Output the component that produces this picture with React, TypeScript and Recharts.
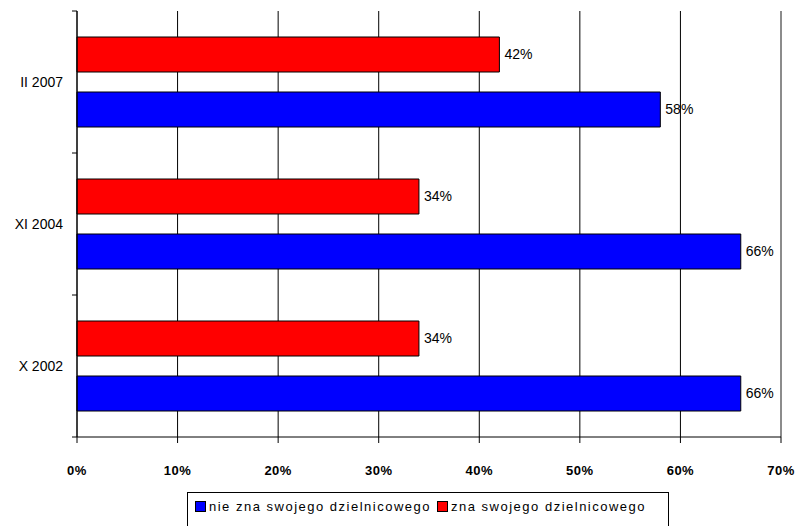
import React from "react";
import { BarChart, Bar, XAxis, YAxis, CartesianGrid, LabelList, ReferenceLine } from "recharts";

const categories = ["II 2007", "XI 2004", "X 2002"];
const znaValues = [42, 34, 34];
const nieZnaValues = [58, 66, 66];
const xTicks = [0, 10, 20, 30, 40, 50, 60, 70];
const seriesNames = ["nie zna swojego dzielnicowego", "zna swojego dzielnicowego"];
const seriesColors = ["#0000FF", "#FF0000"];

const data = categories.map((c, i) => ({ cat: c, zna: znaValues[i], nie: nieZnaValues[i] }));

const FONT = "'Liberation Sans Narrow', 'Liberation Sans', Arial, sans-serif";

const YTick = (props: any) => {
  const { x, y, payload, index } = props;
  const half = payload && payload.offset ? payload.offset : 71;
  return (
    <g>
      <text x={x - 6} y={y} dy="0.35em" textAnchor="end" fontSize={14} fontFamily={FONT} fill="#000">
        {payload.value}
      </text>
      <line x1={x + 3} x2={x + 8} y1={y - half} y2={y - half} stroke="#000" />
      {index === categories.length - 1 && <line x1={x + 3} x2={x + 8} y1={y + half} y2={y + half} stroke="#000" />}
    </g>
  );
};

const LegendBox = () => (
  <div
    style={{
      position: "absolute",
      left: 187,
      top: 492,
      border: "1px solid #000",
      background: "#fff",
      padding: "6px 8px 12px 7px",
      display: "flex",
      alignItems: "center",
      fontFamily: FONT,
      fontSize: 13,
      letterSpacing: 1.5,
      whiteSpace: "nowrap",
      width: 482,
      boxSizing: "border-box",
    }}
  >
    {seriesNames.map((n, i) => (
      <span key={n} style={{ display: "inline-flex", alignItems: "center", marginRight: i === 0 ? 6 : 0 }}>
        <span style={{ display: "inline-block", width: 9, height: 9, background: seriesColors[i], border: "1px solid #000", marginRight: 3 }} />
        {n}
      </span>
    ))}
  </div>
);

export default function App() {
  return (
    <div style={{ position: "absolute", left: 0, top: 0, width: 797, height: 526, background: "#fff", overflow: "hidden" }}>
      <BarChart
        width={797}
        height={526}
        data={data}
        layout="vertical"
        margin={{ top: 11, right: 16, bottom: 49, left: 0 }}
        barCategoryGap={26}
        barGap={20}
      >
        <CartesianGrid horizontal={false} stroke="#000" />
        <XAxis
          type="number"
          domain={[0, 70]}
          ticks={xTicks}
          tickFormatter={(v: number) => `${v}%`}
          axisLine={{ stroke: "#000" }}
          tickLine={{ stroke: "#000" }}
          tickSize={6}
          tickMargin={23}
          height={40}
          tick={{ fontSize: 13, fontWeight: "bold", fontFamily: FONT, fill: "#000", letterSpacing: 0.5 }}
        />
        <XAxis xAxisId="top" orientation="top" type="number" domain={[0, 70]} height={0} tick={false} tickLine={false} axisLine={{ stroke: "#999" }} />
        <YAxis type="category" dataKey="cat" width={77} axisLine={{ stroke: "#000" }} tickLine={false} tick={<YTick />} interval={0} />
        <ReferenceLine x={70} stroke="#999" />
        <Bar dataKey="zna" fill={seriesColors[1]} stroke="#000" strokeWidth={1} isAnimationActive={false}>
          <LabelList dataKey="zna" position="right" offset={5} formatter={(v: any) => `${v}%`} fontSize={14} fontFamily={FONT} fill="#000" />
        </Bar>
        <Bar dataKey="nie" fill={seriesColors[0]} stroke="#000" strokeWidth={1} isAnimationActive={false}>
          <LabelList dataKey="nie" position="right" offset={5} formatter={(v: any) => `${v}%`} fontSize={14} fontFamily={FONT} fill="#000" />
        </Bar>
      </BarChart>
      <LegendBox />
    </div>
  );
}
